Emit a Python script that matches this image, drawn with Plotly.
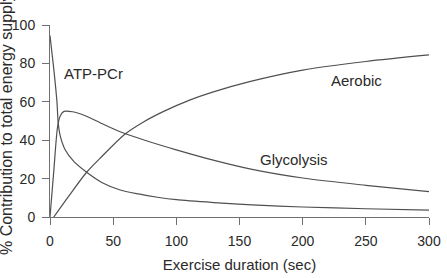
import plotly.graph_objects as go

# Exercise duration (sec) and % contribution
atp_t = [0, 3, 5.5, 6.5, 8, 12, 19, 29, 41, 55, 70, 85, 100, 130, 160, 200, 250, 300]
atp_v = [94.5, 77, 60, 49, 42.5, 35, 28.8, 23.3, 18, 14.2, 12, 10.3, 9.0, 7.5, 6.3, 5.2, 4.3, 3.6]

gly_t = [0, 3, 6, 8, 11, 18, 27, 40, 55, 75, 100, 130, 160, 200, 250, 300]
gly_v = [0, 24, 47, 52.5, 55, 54.8, 53, 49, 44.5, 40, 35, 29.5, 24.8, 20.3, 16.5, 13.2]

aer_t = [3, 15, 29, 41, 59, 74, 90, 111, 130, 158, 200, 250, 300]
aer_v = [0, 11, 23.3, 31.5, 43, 49.5, 55, 61, 65.3, 70.5, 76.5, 81, 84.4]

labels = ["ATP-PCr", "Glycolysis", "Aerobic"]
label_t = [9.5, 165, 221]
label_v = [75, 30, 71]

x_ticks = [0, 50, 100, 150, 200, 250, 300]
y_ticks = [0, 20, 40, 60, 80, 100]

line_color = "#505050"
text_color = "#2a2a2a"
font_family = "Liberation Sans, Arial, sans-serif"

fig = go.Figure()
for t, v in [(atp_t, atp_v), (gly_t, gly_v), (aer_t, aer_v)]:
    fig.add_trace(go.Scatter(x=t, y=v, mode="lines",
                             line=dict(color=line_color, width=1.2, shape="spline", smoothing=0.8),
                             showlegend=False, hoverinfo="skip", cliponaxis=False))

for name, tx, ty in zip(labels, label_t, label_v):
    fig.add_annotation(x=tx, y=ty, text=name, showarrow=False, xanchor="left", yanchor="middle",
                       font=dict(size=15, color=text_color, family=font_family))

fig.add_annotation(xref="paper", yref="paper", x=0, y=0.5, xshift=-44, yshift=-4,
                   text="% Contribution to total energy supply", textangle=-90,
                   showarrow=False, xanchor="center", yanchor="middle",
                   font=dict(size=16, color=text_color, family=font_family))

axis_common = dict(showgrid=False, zeroline=False, showline=True, linecolor="#707070", linewidth=1,
                   ticks="outside", ticklen=7, tickcolor="#707070", tickwidth=1, automargin=False,
                   tickfont=dict(size=14, color=text_color, family=font_family))

fig.update_xaxes(range=[0, 300], tickvals=x_ticks, ticklabelstandoff=4,
                 title=dict(text="Exercise duration (sec)", standoff=11,
                            font=dict(size=15, color=text_color, family=font_family)),
                 **axis_common)
fig.update_yaxes(range=[0, 100], tickvals=y_ticks, ticklabelstandoff=4, **axis_common)

fig.update_layout(width=447, height=278, autosize=False,
                  margin=dict(l=50, r=18, t=25, b=61),
                  paper_bgcolor="white", plot_bgcolor="white")

fig.write_html("out.html")
